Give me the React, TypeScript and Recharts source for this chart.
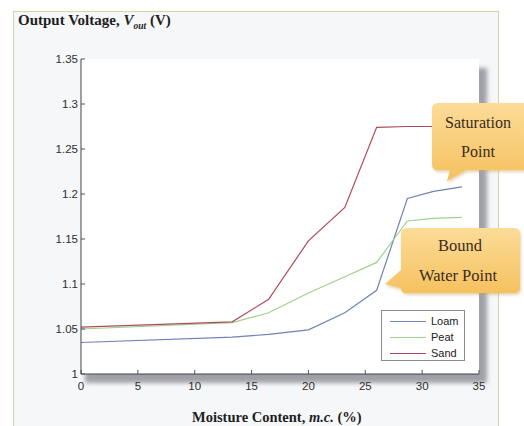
import { CartesianGrid, Legend, Line, LineChart, XAxis, YAxis } from "recharts";

const moisture = [0, 13.3, 16.5, 20, 23.2, 26, 28.7, 31, 33.5];
const loam = [1.035, 1.041, 1.044, 1.049, 1.068, 1.093, 1.195, 1.203, 1.208];
const peat = [1.05, 1.057, 1.068, 1.09, 1.108, 1.124, 1.17, 1.173, 1.174];
const sand = [1.052, 1.058, 1.083, 1.148, 1.185, 1.274, 1.275, 1.275, 1.276];

const xTicks = [0, 5, 10, 15, 20, 25, 30, 35];
const yTicks = [1, 1.05, 1.1, 1.15, 1.2, 1.25, 1.3, 1.35];

const seriesNames = ["Loam", "Peat", "Sand"];
const seriesColors = ["#7082b6", "#9fd28c", "#b04a5a"];

const data = moisture.map((mc, i) => ({ mc, Loam: loam[i], Peat: peat[i], Sand: sand[i] }));

const W = 524;
const H = 426;
const serif = "'Liberation Serif', 'Times New Roman', serif";
const sans = "'Liberation Sans', Arial, sans-serif";
const tickStyle = { fill: "#2e2e2e", fontSize: 11.5, fontFamily: sans };

function LegendBox() {
  return (
    <div style={{ width: 84, height: 51, background: "#fff", border: "1px solid #8a8a8a", boxSizing: "border-box", paddingTop: 2 }}>
      {seriesNames.map((name, i) => (
        <div key={name} style={{ display: "flex", alignItems: "center", height: 16, fontFamily: sans, fontSize: 11, color: "#222" }}>
          <div style={{ marginLeft: 8, width: 36, height: 0, borderTop: `1px solid ${seriesColors[i]}` }} />
          <span style={{ marginLeft: 5 }}>{name}</span>
        </div>
      ))}
    </div>
  );
}

function Callouts() {
  return (
    <svg width={W} height={H} style={{ position: "absolute", left: 0, top: 0, pointerEvents: "none" }}>
      <defs>
        <linearGradient id="callout" x1="0" y1="0" x2="0" y2="1">
          <stop offset="0" stopColor="#fcdc98" />
          <stop offset="1" stopColor="#f5c15f" />
        </linearGradient>
        <filter id="soft" x="-10%" y="-10%" width="120%" height="130%">
          <feDropShadow dx="1" dy="2" stdDeviation="1.5" floodColor="#c9a560" floodOpacity="0.5" />
        </filter>
      </defs>
      <path
        d="M438 103 H532 V170 H466 L447 181 L450 170 H438 Q432 170 432 164 V109 Q432 103 438 103 Z"
        fill="url(#callout)"
        filter="url(#soft)"
      />
      <text x={478} y={128} textAnchor="middle" fontFamily={serif} fontSize={16} fill="#3b2b1c">Saturation</text>
      <text x={478} y={157} textAnchor="middle" fontFamily={serif} fontSize={16} fill="#3b2b1c">Point</text>
      <path
        d="M407 228 H514 Q520 228 520 234 V287 Q520 293 514 293 H407 Q401 293 401 288 L385 284 L401 270 V234 Q401 228 407 228 Z"
        fill="url(#callout)"
        filter="url(#soft)"
      />
      <text x={460} y={251} textAnchor="middle" fontFamily={serif} fontSize={16.5} fill="#3b2b1c">Bound</text>
      <text x={458} y={281} textAnchor="middle" fontFamily={serif} fontSize={16.5} fill="#3b2b1c">Water Point</text>
    </svg>
  );
}

export default function App() {
  return (
    <div style={{ position: "absolute", left: 0, top: 0, width: W, height: H, background: "#fff", overflow: "hidden" }}>
      <div style={{ position: "absolute", left: 13, top: 11, width: 484, height: 430, background: "#f6f7f9", border: "1px solid #c9dca6" }} />
      <div style={{ position: "absolute", left: 85, top: 68, width: 402, height: 315, background: "#a0a0a8", filter: "blur(2px)" }} />
      <div style={{ position: "absolute", left: 18, top: 12, fontFamily: serif, fontWeight: "bold", fontSize: 15, color: "#1e1e1e" }}>
        Output Voltage, <i>V<sub style={{ fontSize: 9.5 }}>out</sub></i> (V)
      </div>
      <div style={{ position: "absolute", left: 192, top: 409, fontFamily: serif, fontWeight: "bold", fontSize: 14.5, color: "#1e1e1e" }}>
        Moisture Content, <i>m.c.</i> (%)
      </div>
      <div style={{ position: "absolute", left: 0, top: 0 }}>
        <LineChart width={W} height={H} data={data} margin={{ top: 59, right: 45, bottom: 32, left: 51 }}>
          <CartesianGrid horizontal={false} vertical={false} fill="#fff" />
          <XAxis
            dataKey="mc"
            type="number"
            domain={[0, 35]}
            ticks={xTicks}
            height={20}
            tickSize={-4}
            tickMargin={12}
            tick={tickStyle}
            axisLine={{ stroke: "#444" }}
            tickLine={{ stroke: "#555" }}
            allowDataOverflow
          />
          <XAxis
            xAxisId="top"
            orientation="top"
            type="number"
            domain={[0, 35]}
            ticks={xTicks}
            height={0}
            tickSize={-4}
            tick={{ fill: "none", fontSize: 1 }}
            axisLine={{ stroke: "#444" }}
            tickLine={{ stroke: "#555" }}
          />
          <YAxis
            type="number"
            domain={[1, 1.35]}
            ticks={yTicks}
            width={30}
            tickSize={-4}
            tickMargin={7}
            tick={tickStyle}
            axisLine={{ stroke: "#444" }}
            tickLine={{ stroke: "#555" }}
            allowDataOverflow
          />
          <YAxis
            yAxisId="right"
            orientation="right"
            type="number"
            domain={[1, 1.35]}
            ticks={yTicks}
            width={0}
            tickSize={-4}
            tick={{ fill: "none", fontSize: 1 }}
            axisLine={{ stroke: "#444" }}
            tickLine={{ stroke: "#555" }}
          />
          <Legend
            layout="vertical"
            align="center"
            verticalAlign="middle"
            content={() => <LegendBox />}
            wrapperStyle={{ position: "absolute", left: 381, top: 310, width: 84, height: 51 }}
          />
          {seriesNames.map((name, i) => (
            <Line
              key={name}
              dataKey={name}
              type="linear"
              stroke={seriesColors[i]}
              strokeWidth={1.2}
              dot={false}
              isAnimationActive={false}
            />
          ))}
        </LineChart>
      </div>
      <Callouts />
    </div>
  );
}
